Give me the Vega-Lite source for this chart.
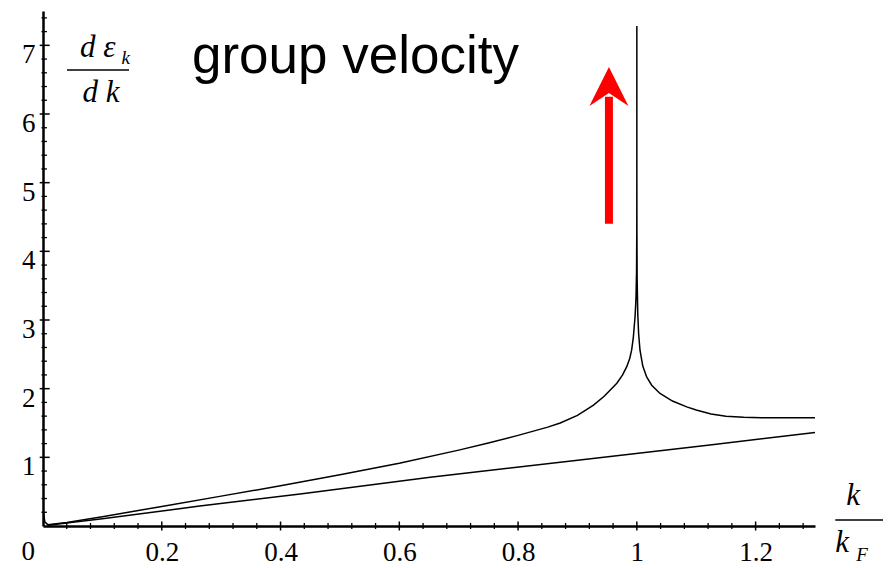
{
  "$schema": "https://vega.github.io/schema/vega-lite/v6.json",
  "width": 772,
  "height": 515,
  "autosize": {"type": "none"},
  "padding": {"left": 43, "top": 11, "right": 75, "bottom": 42},
  "background": "white",
  "config": {
    "view": {"stroke": null},
    "axis": {
      "grid": false,
      "ticks": false,
      "tickSize": 0,
      "domainColor": "black",
      "domainWidth": 2.5,
      "labelFont": "Liberation Serif",
      "labelFontSize": 27,
      "labelColor": "black",
      "labelFlush": false,
      "labelOverlap": false,
      "labelBound": false,
      "title": null
    }
  },
  "layer": [
    {
      "data": {
        "values": [
          {"k": 0.008, "v": 0.01, "s": "free"},
          {"k": 0.1, "v": 0.105, "s": "free"},
          {"k": 0.264, "v": 0.29, "s": "free"},
          {"k": 0.433, "v": 0.466, "s": "free"},
          {"k": 0.652, "v": 0.709, "s": "free"},
          {"k": 0.904, "v": 0.961, "s": "free"},
          {"k": 1.05, "v": 1.107, "s": "free"},
          {"k": 1.123, "v": 1.18, "s": "free"},
          {"k": 1.3, "v": 1.36, "s": "free"},
          {"k": 0.001, "v": 0.19, "s": "hf"},
          {"k": 0.003, "v": 0.06, "s": "hf"},
          {"k": 0.008, "v": 0.02, "s": "hf"},
          {"k": 0.04, "v": 0.05, "s": "hf"},
          {"k": 0.1, "v": 0.135, "s": "hf"},
          {"k": 0.2, "v": 0.285, "s": "hf"},
          {"k": 0.3, "v": 0.435, "s": "hf"},
          {"k": 0.4, "v": 0.585, "s": "hf"},
          {"k": 0.5, "v": 0.745, "s": "hf"},
          {"k": 0.6, "v": 0.915, "s": "hf"},
          {"k": 0.7, "v": 1.105, "s": "hf"},
          {"k": 0.75, "v": 1.21, "s": "hf"},
          {"k": 0.8, "v": 1.32, "s": "hf"},
          {"k": 0.85, "v": 1.44, "s": "hf"},
          {"k": 0.871, "v": 1.5, "s": "hf"},
          {"k": 0.9, "v": 1.61, "s": "hf"},
          {"k": 0.927, "v": 1.76, "s": "hf"},
          {"k": 0.945, "v": 1.89, "s": "hf"},
          {"k": 0.9663, "v": 2.08, "s": "hf"},
          {"k": 0.976, "v": 2.2, "s": "hf"},
          {"k": 0.983, "v": 2.32, "s": "hf"},
          {"k": 0.988, "v": 2.44, "s": "hf"},
          {"k": 0.9912, "v": 2.56, "s": "hf"},
          {"k": 0.994, "v": 2.74, "s": "hf"},
          {"k": 0.997, "v": 3.05, "s": "hf"},
          {"k": 0.9985, "v": 3.3, "s": "hf"},
          {"k": 0.9995, "v": 3.7, "s": "hf"},
          {"k": 0.9999, "v": 4.3, "s": "hf"},
          {"k": 0.99999, "v": 5.2, "s": "hf"},
          {"k": 0.999999, "v": 6.0, "s": "hf"},
          {"k": 1.0, "v": 7.28, "s": "hf"},
          {"k": 1.000001, "v": 6.0, "s": "hf"},
          {"k": 1.00001, "v": 5.2, "s": "hf"},
          {"k": 1.0001, "v": 4.3, "s": "hf"},
          {"k": 1.0005, "v": 3.6, "s": "hf"},
          {"k": 1.0015, "v": 3.1, "s": "hf"},
          {"k": 1.003, "v": 2.8, "s": "hf"},
          {"k": 1.0053, "v": 2.56, "s": "hf"},
          {"k": 1.01, "v": 2.33, "s": "hf"},
          {"k": 1.0165, "v": 2.17, "s": "hf"},
          {"k": 1.025, "v": 2.05, "s": "hf"},
          {"k": 1.039, "v": 1.93, "s": "hf"},
          {"k": 1.06, "v": 1.82, "s": "hf"},
          {"k": 1.084, "v": 1.735, "s": "hf"},
          {"k": 1.1, "v": 1.69, "s": "hf"},
          {"k": 1.125, "v": 1.63, "s": "hf"},
          {"k": 1.15, "v": 1.6, "s": "hf"},
          {"k": 1.18, "v": 1.585, "s": "hf"},
          {"k": 1.21, "v": 1.578, "s": "hf"},
          {"k": 1.25, "v": 1.576, "s": "hf"},
          {"k": 1.3, "v": 1.578, "s": "hf"}
        ]
      },
      "mark": {"type": "line", "color": "black", "strokeWidth": 1.5, "interpolate": "linear"},
      "encoding": {
        "x": {
          "field": "k", "type": "quantitative",
          "scale": {"domain": [0, 1.3], "nice": false, "zero": false},
          "axis": {
            "values": [0.2, 0.4, 0.6, 0.8, 1, 1.2],
            "labelExpr": "format(datum.value, '~g')",
            "labelPadding": 34,
            "labelBaseline": "alphabetic",
            "labelAlign": "center"
          }
        },
        "y": {
          "field": "v", "type": "quantitative",
          "scale": {"domain": [0, 7.5], "nice": false, "zero": false},
          "axis": {
            "values": [1, 2, 3, 4, 5, 6, 7],
            "format": "d",
            "labelPadding": 8,
            "labelBaseline": "alphabetic",
            "labelOffset": 17.5
          }
        },
        "detail": {"field": "s", "type": "nominal"}
      }
    },
    {
      "data": {"values": [{"k": 0.2}, {"k": 0.4}, {"k": 0.6}, {"k": 0.8}, {"k": 1.0}, {"k": 1.2}]},
      "mark": {"type": "tick", "orient": "vertical", "color": "black", "size": 9, "thickness": 1.5, "opacity": 1},
      "encoding": {
        "x": {"field": "k", "type": "quantitative"},
        "y": {"datum": 0, "type": "quantitative"}
      }
    },
    {
      "data": {"values": [
        {"k": 0.04}, {"k": 0.08}, {"k": 0.12}, {"k": 0.16},
        {"k": 0.24}, {"k": 0.28}, {"k": 0.32}, {"k": 0.36},
        {"k": 0.44}, {"k": 0.48}, {"k": 0.52}, {"k": 0.56},
        {"k": 0.64}, {"k": 0.68}, {"k": 0.72}, {"k": 0.76},
        {"k": 0.84}, {"k": 0.88}, {"k": 0.92}, {"k": 0.96},
        {"k": 1.04}, {"k": 1.08}, {"k": 1.12}, {"k": 1.16},
        {"k": 1.24}, {"k": 1.28}
      ]},
      "mark": {"type": "tick", "orient": "vertical", "color": "black", "size": 6, "thickness": 1.3, "opacity": 1},
      "encoding": {
        "x": {"field": "k", "type": "quantitative"},
        "y": {"datum": 0, "type": "quantitative"}
      }
    },
    {
      "data": {"values": [{"v": 1}, {"v": 2}, {"v": 3}, {"v": 4}, {"v": 5}, {"v": 6}, {"v": 7}]},
      "mark": {"type": "tick", "orient": "horizontal", "color": "black", "size": 10, "thickness": 1.5, "opacity": 1, "xOffset": 1.7},
      "encoding": {
        "y": {"field": "v", "type": "quantitative"},
        "x": {"datum": 0, "type": "quantitative"}
      }
    },
    {
      "data": {"values": [
        {"v": 0.2}, {"v": 0.4}, {"v": 0.6}, {"v": 0.8},
        {"v": 1.2}, {"v": 1.4}, {"v": 1.6}, {"v": 1.8},
        {"v": 2.2}, {"v": 2.4}, {"v": 2.6}, {"v": 2.8},
        {"v": 3.2}, {"v": 3.4}, {"v": 3.6}, {"v": 3.8},
        {"v": 4.2}, {"v": 4.4}, {"v": 4.6}, {"v": 4.8},
        {"v": 5.2}, {"v": 5.4}, {"v": 5.6}, {"v": 5.8},
        {"v": 6.2}, {"v": 6.4}, {"v": 6.6}, {"v": 6.8},
        {"v": 7.2}, {"v": 7.4}
      ]},
      "mark": {"type": "tick", "orient": "horizontal", "color": "black", "size": 5.5, "thickness": 1.3, "opacity": 1, "xOffset": 1.2},
      "encoding": {
        "y": {"field": "v", "type": "quantitative"},
        "x": {"datum": 0, "type": "quantitative"}
      }
    },
    {
      "data": {"values": [{"k": 0, "v": 0, "label": "0"}]},
      "mark": {"type": "text", "font": "Liberation Serif", "fontSize": 27, "color": "black", "align": "center", "baseline": "alphabetic", "dx": -14.7, "dy": 34},
      "encoding": {
        "x": {"field": "k", "type": "quantitative"},
        "y": {"field": "v", "type": "quantitative"},
        "text": {"field": "label"}
      }
    },
    {
      "data": {"values": [{"k": 0.2509, "v": 6.597, "label": "group velocity"}]},
      "mark": {"type": "text", "font": "Liberation Sans", "fontSize": 53, "color": "black", "align": "left", "baseline": "alphabetic"},
      "encoding": {
        "x": {"field": "k", "type": "quantitative"},
        "y": {"field": "v", "type": "quantitative"},
        "text": {"field": "label"}
      }
    },
    {
      "data": {"values": [
        {"k": 0.0623, "v": 6.83, "label": "d  ε"},
        {"k": 1.3341, "v": -0.374, "label": "k"}
      ]},
      "mark": {"type": "text", "font": "Liberation Serif", "fontStyle": "italic", "fontSize": 31, "color": "black", "align": "left", "baseline": "alphabetic"},
      "encoding": {
        "x": {"field": "k", "type": "quantitative"},
        "y": {"field": "v", "type": "quantitative"},
        "text": {"field": "label"}
      }
    },
    {
      "data": {"values": [
        {"k": 0.0977, "v": 6.182, "label": "d k"},
        {"k": 1.364, "v": 0.306, "label": "k"}
      ]},
      "mark": {"type": "text", "font": "Liberation Serif", "fontStyle": "italic", "fontSize": 31, "color": "black", "align": "center", "baseline": "alphabetic"},
      "encoding": {
        "x": {"field": "k", "type": "quantitative"},
        "y": {"field": "v", "type": "quantitative"},
        "text": {"field": "label"}
      }
    },
    {
      "data": {"values": [
        {"k": 0.1322, "v": 6.728, "label": "k"},
        {"k": 1.3695, "v": -0.51, "label": "F"}
      ]},
      "mark": {"type": "text", "font": "Liberation Serif", "fontStyle": "italic", "fontSize": 19, "color": "black", "align": "left", "baseline": "alphabetic"},
      "encoding": {
        "x": {"field": "k", "type": "quantitative"},
        "y": {"field": "v", "type": "quantitative"},
        "text": {"field": "label"}
      }
    },
    {
      "data": {"values": [
        {"k": 0.0404, "k2": 0.1448, "v": 6.641},
        {"k": 1.3341, "k2": 1.4145, "v": 0.0874}
      ]},
      "mark": {"type": "rule", "color": "black", "strokeWidth": 1.5},
      "encoding": {
        "x": {"field": "k", "type": "quantitative"},
        "x2": {"field": "k2"},
        "y": {"field": "v", "type": "quantitative"}
      }
    },
    {
      "data": {"values": [{"k": 0.953, "v": 4.4, "v2": 6.25}]},
      "mark": {"type": "rule", "color": "#ff0000", "strokeWidth": 8, "strokeCap": "butt"},
      "encoding": {
        "x": {"field": "k", "type": "quantitative"},
        "y": {"field": "v", "type": "quantitative"},
        "y2": {"field": "v2"}
      }
    },
    {
      "data": {"values": [{"k": 0.953, "v": 6.4}]},
      "mark": {"type": "point", "shape": "M0,-1L1,1L0,0.33L-1,1Z", "size": 1521, "filled": true, "color": "#ff0000", "opacity": 1, "strokeWidth": 0},
      "encoding": {
        "x": {"field": "k", "type": "quantitative"},
        "y": {"field": "v", "type": "quantitative"}
      }
    }
  ]
}
